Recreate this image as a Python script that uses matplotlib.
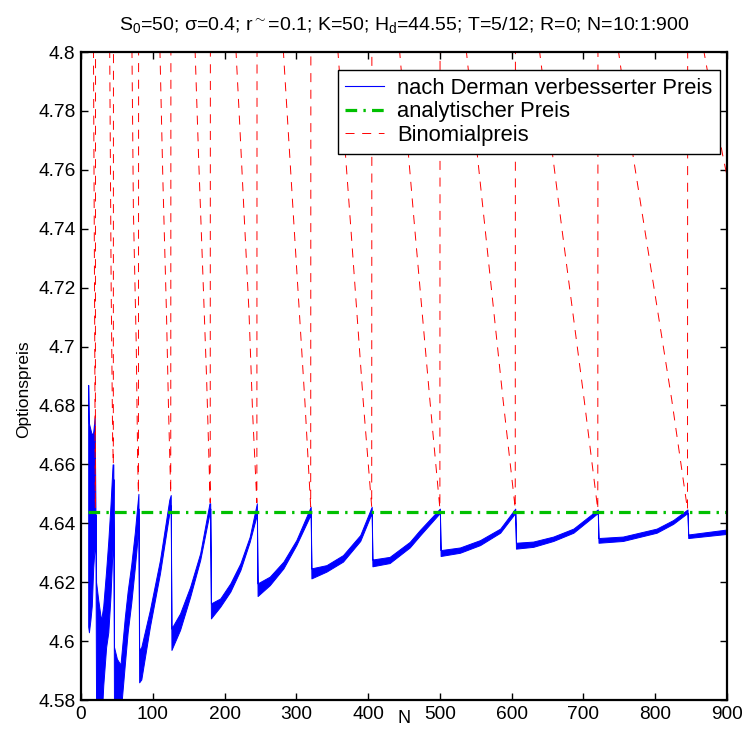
import matplotlib
matplotlib.use("Agg")
import matplotlib.pyplot as plt
from matplotlib.lines import Line2D
from matplotlib.ticker import FormatStrFormatter

plt.rcParams['font.family'] = ['Liberation Sans', 'DejaVu Sans']
plt.rcParams['mathtext.fontset'] = 'custom'
plt.rcParams['mathtext.rm'] = 'Liberation Sans'
plt.rcParams['mathtext.it'] = 'Liberation Sans'
plt.rcParams['lines.scale_dashes'] = False

# Derman-corrected price: upper / lower edge of the oscillating band
N_blue = [10, 11, 13, 15, 17, 19, 20,
          21, 24, 28, 31, 35, 38, 41, 44, 45,
          46, 50, 55, 61, 65, 70, 75, 78, 80,
          81, 84, 96, 110, 123, 125,
          126, 138, 152, 166, 179, 180,
          181, 194, 208, 222, 235, 245,
          246, 263, 282, 300, 320,
          321, 342, 365, 389, 405,
          406, 430, 458, 472, 500,
          501, 528, 556, 584, 605,
          606, 630, 658, 686, 720,
          721, 755, 802, 825, 845,
          846, 900]
blue_hi = [4.687, 4.674, 4.672, 4.670, 4.671, 4.676, 4.648,
           4.620, 4.614, 4.607, 4.612, 4.624, 4.634, 4.646, 4.660, 4.660,
           4.598, 4.594, 4.592, 4.608, 4.617, 4.626, 4.637, 4.645, 4.650,
           4.597, 4.598, 4.6106, 4.6275, 4.648, 4.6496,
           4.6043, 4.6094, 4.6184, 4.6298, 4.6468, 4.6468,
           4.6128, 4.6145, 4.6196, 4.6264, 4.6354, 4.6468,
           4.6196, 4.6219, 4.6270, 4.6343, 4.6456,
           4.6247, 4.6258, 4.6292, 4.6360, 4.6456,
           4.6277, 4.6286, 4.6337, 4.6377, 4.6450,
           4.6309, 4.6318, 4.6343, 4.6382, 4.6450,
           4.6334, 4.6338, 4.6355, 4.6382, 4.6447,
           4.6350, 4.6355, 4.6382, 4.6411, 4.6447,
           4.6362, 4.6379]
blue_lo = [4.605, 4.603, 4.607, 4.612, 4.625, 4.632, 4.643,
           4.575, 4.570, 4.570, 4.585, 4.598, 4.603, 4.615, 4.632, 4.655,
           4.570, 4.570, 4.575, 4.592, 4.603, 4.613, 4.625, 4.633, 4.645,
           4.586, 4.587, 4.6049, 4.6230, 4.6434, 4.6460,
           4.5970, 4.6038, 4.6150, 4.6275, 4.6434, 4.6450,
           4.6077, 4.6117, 4.6168, 4.6241, 4.6337, 4.6430,
           4.6153, 4.6190, 4.6247, 4.6326, 4.6430,
           4.6213, 4.6236, 4.6270, 4.6340, 4.6435,
           4.6254, 4.6265, 4.6318, 4.6358, 4.6435,
           4.6289, 4.6300, 4.6326, 4.6368, 4.6435,
           4.6314, 4.6320, 4.6340, 4.6368, 4.6435,
           4.6334, 4.6340, 4.6368, 4.6398, 4.6435,
           4.6350, 4.6364]

# plain binomial price (values above 4.8 leave the axes)
N_red = [10, 17, 19, 20,
         21, 40, 42, 44, 45,
         46, 71, 73, 77, 79, 80,
         81, 110, 114, 119, 122, 125,
         126, 159, 164, 170, 175, 180,
         181, 216, 221, 227, 234, 239, 245,
         246, 282, 297, 312, 320,
         321, 358, 376, 393, 405,
         406, 444, 465, 486, 500,
         501, 537, 563, 588, 605,
         606, 639, 670, 701, 720,
         721, 749, 769, 823, 845,
         846, 868, 894, 900]
red_val = [5.3, 4.82, 4.71, 4.645,
           5.3, 4.80, 4.72, 4.67, 4.660,
           5.3, 4.80, 4.746, 4.70, 4.66, 4.650,
           5.3, 4.80, 4.757, 4.712, 4.678, 4.650,
           5.3, 4.80, 4.763, 4.723, 4.689, 4.647,
           5.3, 4.80, 4.776, 4.746, 4.712, 4.678, 4.647,
           5.3, 4.80, 4.740, 4.681, 4.6456,
           5.3, 4.80, 4.740, 4.682, 4.6456,
           5.3, 4.80, 4.740, 4.682, 4.645,
           5.3, 4.80, 4.740, 4.682, 4.645,
           5.3, 4.80, 4.740, 4.682, 4.6447,
           5.3, 4.80, 4.765, 4.682, 4.6447,
           5.3, 4.80, 4.765, 4.758]

analytic = 4.6439
N_range = [10, 900]

fig = plt.figure(figsize=(7.46, 7.40), dpi=100)
ax = fig.add_axes([0.1086, 0.054, 0.8659, 0.8757])

ax.fill_between(N_blue, blue_lo, blue_hi, color='#0000ff', lw=0.7)
ax.plot(N_range, [analytic, analytic], color='#00c000', lw=2.3,
        dashes=(8.4, 4.5, 1.7, 4.5))
ax.plot(N_red, red_val, color='#ff0000', lw=0.7, dashes=(6.5, 5.5))

ax.set_xlim(0, 900)
ax.set_ylim(4.58, 4.8)
ax.set_xticks(range(0, 901, 100))
ax.set_yticks([4.58 + 0.02 * i for i in range(12)])
ax.yaxis.set_major_formatter(FormatStrFormatter('%g'))
ax.tick_params(direction='in', length=5, width=1, labelsize=13.8,
               top=True, right=True, pad=4)
for s in ax.spines.values():
    s.set_linewidth(1.6)

ax.set_xlabel('N', fontsize=13)
ax.xaxis.set_label_coords(0.5, -0.016)
ax.set_ylabel('Optionspreis', fontsize=12.5)
ax.yaxis.set_label_coords(-0.078, 0.48)
ax.set_title(r'S$_0$=50; σ=0.4; r$^{\sim}$=0.1; K=50; H$_d$=44.55; T=5/12; R=0; N=10:1:900',
             fontsize=14, pad=16)

handles = [Line2D([], [], color='#0000ff', lw=0.8),
           Line2D([], [], color='#00c000', lw=2.3, dashes=(8.4, 4.5, 1.7, 4.5)),
           Line2D([], [], color='#ff0000', lw=0.7, dashes=(6.5, 5.5))]
labels = ['nach Derman verbesserter Preis', 'analytischer Preis', 'Binomialpreis']
leg = ax.legend(handles, labels, loc='upper right', bbox_to_anchor=(0.989, 0.972),
                fontsize=15.8, fancybox=False, edgecolor='black', framealpha=1,
                borderaxespad=0, handlelength=1.75, handletextpad=0.6,
                labelspacing=0.12, borderpad=0.35)
leg.get_frame().set_linewidth(1.0)

fig.savefig('out.png', dpi=100)
